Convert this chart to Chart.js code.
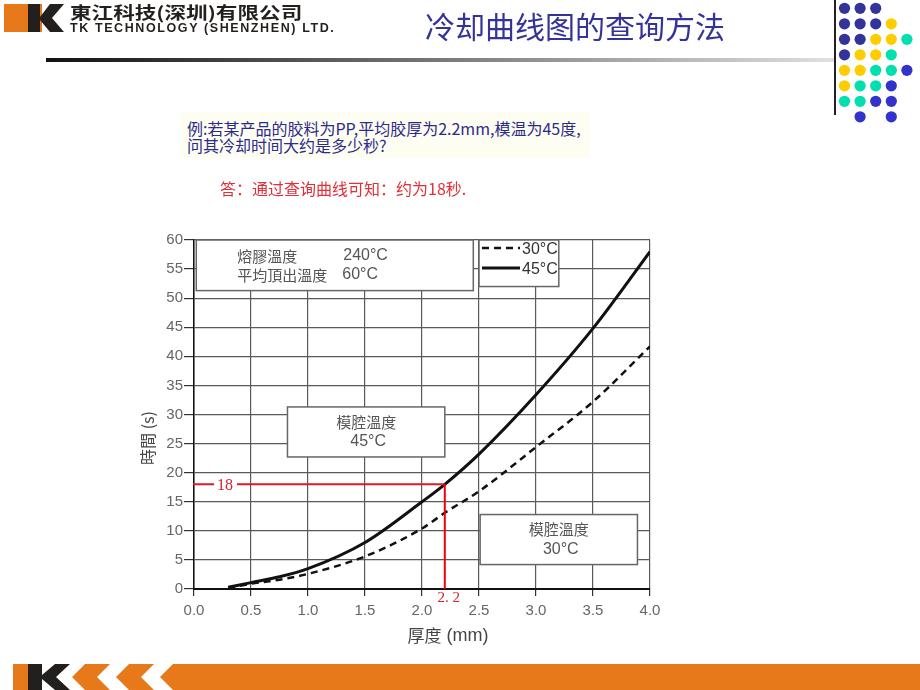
<!DOCTYPE html>
<html>
<head>
<meta charset="utf-8">
<script src="https://cdn.jsdelivr.net/npm/chart.js@4.4.1/dist/chart.umd.min.js"></script>
<style>
  html, body { margin: 0; padding: 0; background: #fff; }
  #page { position: relative; width: 920px; height: 690px; overflow: hidden; background: #fff; }
  #chart { position: absolute; left: 0; top: 0; }
  .abs { position: absolute; white-space: nowrap; }
  .cjk { font-family: "Noto Sans CJK SC", "Noto Sans CJK TC", sans-serif; }
</style>
</head>
<body>
<div id="page">
  <canvas id="chart" width="920" height="690"></canvas>

  <!-- header -->
  <svg class="abs" style="left:0;top:0" width="70" height="36">
    <rect x="4" y="4" width="38" height="28" fill="#e8791b"/>
    <polygon points="28,4 40,4 40,17 50,4 64,4 52,18 64,32 50,32 40,20 40,32 28,32" fill="#231f1c"/>
  </svg>
  <div class="abs cjk" style="left:70px;top:3px;font-size:17px;line-height:17px;font-weight:bold;color:#231f1c;transform:scaleX(1.27);transform-origin:0 0">東江科技(深圳)有限公司</div>
  <div class="abs" style="left:70px;top:22px;font-family:'Liberation Sans',Arial,sans-serif;font-size:12.5px;line-height:13px;font-weight:bold;color:#231f1c;letter-spacing:1.6px">TK TECHNOLOGY (SHENZHEN) LTD.</div>
  <div class="abs cjk" style="left:425px;top:10px;font-size:30px;line-height:30px;color:#333399">冷却曲线图的查询方法</div>
  <div class="abs" style="left:46px;top:58px;width:789px;height:4px;background:linear-gradient(to right,#111,#e0e0e0)"></div>
  <div class="abs" style="left:834px;top:0;width:2px;height:115px;background:#222"></div>
  <svg id="dots" class="abs" style="left:836px;top:0" width="84" height="130"></svg>

  <!-- question -->
  <div class="abs" style="left:180px;top:112px;width:410px;height:46px;background:#fdfdf1"></div>
  <div class="abs cjk" style="left:187px;top:120px;font-size:16px;line-height:17px;color:#2b2b8c">例:若某产品的胶料为PP,平均胶厚为2.2mm,模温为45度,<br>问其冷却时间大约是多少秒?</div>
  <div class="abs cjk" style="left:220px;top:176px;font-size:16px;color:#e0303a">答：通过查询曲线可知：约为18秒.</div>

  <!-- footer -->
  <svg class="abs" style="left:0;top:660px" width="920" height="30">
    <rect x="13" y="4" width="29" height="26" fill="#e8791b"/>
    <polygon points="28,4 42,4 42,15 55,4 70,4 56,17 70,30 55,30 42,19 42,30 28,30" fill="#231f1c"/>
    <polygon points="85,4 110,4 97,17 110,30 85,30 72,17" fill="#e8791b"/>
    <polygon points="129,4 154,4 141,17 154,30 129,30 116,17" fill="#e8791b"/>
    <polygon points="173,4 920,4 920,30 173,30 160,17" fill="#e8791b"/>
  </svg>
</div>

<script>
// cooling time curves
const thickness = [0.3, 0.5, 0.75, 1.0, 1.5, 2.0, 2.2, 2.5, 3.0, 3.5, 4.0];
const time30 = [0.2, 0.9, 1.6, 2.6, 5.6, 10.4, 13.1, 16.8, 24.4, 32.2, 41.7];
const time45 = [0.3, 1.1, 2.1, 3.5, 8.0, 15.0, 18.0, 23.2, 33.4, 44.8, 58.0];
const seriesNames = ['30°C', '45°C'];
const xTicks = [0, 0.5, 1, 1.5, 2, 2.5, 3, 3.5, 4];
const yTicks = [0, 5, 10, 15, 20, 25, 30, 35, 40, 45, 50, 55, 60];
const answerThickness = 2.2;
const answerTime = 18;

// dots at top right
const dotRows = [
  'NNN..', 'NNNY.', 'NNYYT', 'NYYT.', 'YYTTB', 'YTTB.', 'TTBB.', '.B.B.'
];
const dotColors = { N: '#333399', Y: '#ffcc00', T: '#00dfae', B: '#3333cc' };
const dotsSvg = document.getElementById('dots');
dotRows.forEach((row, r) => {
  row.split('').forEach((c, i) => {
    if (c === '.') return;
    const el = document.createElementNS('http://www.w3.org/2000/svg', 'circle');
    el.setAttribute('cx', 8.5 + i * 15.6);
    el.setAttribute('cy', 8.3 + r * 15.5);
    el.setAttribute('r', 5.6);
    el.setAttribute('fill', dotColors[c]);
    dotsSvg.appendChild(el);
  });
});

const FONT_CJK = '"Noto Sans CJK TC", "Noto Sans CJK SC", sans-serif';
const textGray = '#555';

const boxes = [
  { x0: 0.02, x1: 2.45, y0: 51.3, y1: 60 },
  { x0: 2.5, x1: 3.2, y0: 52, y1: 60 },
  { x0: 0.82, x1: 2.2, y0: 22.7, y1: 31.3 },
  { x0: 2.51, x1: 3.89, y0: 4.2, y1: 12.8 }
];

const annotations = {
  id: 'annotations',
  beforeDatasetsDraw(chart) {
    const { ctx, scales: { x, y } } = chart;
    ctx.save();
    const px = boxes.map(b => ({
      l: x.getPixelForValue(b.x0), r: x.getPixelForValue(b.x1),
      t: y.getPixelForValue(b.y1), b: y.getPixelForValue(b.y0)
    }));
    px.forEach(p => {
      ctx.fillStyle = '#fff';
      ctx.fillRect(p.l, p.t, p.r - p.l, p.b - p.t);
      ctx.strokeStyle = '#666';
      ctx.lineWidth = 1.5;
      ctx.strokeRect(p.l, p.t, p.r - p.l, p.b - p.t);
    });
    ctx.fillStyle = textGray;
    ctx.textBaseline = 'middle';
    ctx.font = '15px ' + FONT_CJK;
    ctx.textAlign = 'left';
    ctx.fillText('熔膠溫度', px[0].l + 41, px[0].t + 16);
    ctx.fillText('平均頂出溫度', px[0].l + 41, px[0].t + 35);
    ctx.font = '16px "Liberation Sans", Arial, sans-serif';
    ctx.fillText('240°C', px[0].l + 147, px[0].t + 16);
    ctx.fillText('60°C', px[0].l + 146, px[0].t + 35);

    // legend
    const lg = px[1];
    chart.data.datasets.forEach((ds, i) => {
      const ly = lg.t + 8 + i * 20;
      ctx.strokeStyle = ds.borderColor;
      ctx.lineWidth = ds.borderWidth;
      ctx.setLineDash(ds.borderDash || []);
      ctx.beginPath();
      ctx.moveTo(lg.l + 3, ly);
      ctx.lineTo(lg.l + 41, ly);
      ctx.stroke();
      ctx.setLineDash([]);
      ctx.textAlign = 'right';
      ctx.fillStyle = '#333';
      ctx.font = '16px "Liberation Sans", Arial, sans-serif';
      ctx.fillText(ds.label, lg.r - 1, ly + 2);
    });

    [[px[2], '45°C'], [px[3], '30°C']].forEach(([p, t]) => {
      const cx = (p.l + p.r) / 2;
      ctx.textAlign = 'center';
      ctx.fillStyle = textGray;
      ctx.font = '15px ' + FONT_CJK;
      ctx.fillText('模腔溫度', cx, p.t + 15);
      ctx.font = '16px "Liberation Sans", Arial, sans-serif';
      ctx.fillText(t, cx + 2, p.t + 35);
    });
    ctx.restore();
  },
  afterDatasetsDraw(chart) {
    const { ctx, chartArea, scales: { x, y } } = chart;
    const ax = x.getPixelForValue(answerThickness);
    const ay = y.getPixelForValue(answerTime);
    const y0 = y.getPixelForValue(0);
    ctx.save();
    ctx.strokeStyle = '#d81e2a';
    ctx.lineWidth = 2;
    ctx.beginPath();
    ctx.moveTo(chartArea.left - 1, ay);
    ctx.lineTo(ax, ay);
    ctx.stroke();
    ctx.strokeStyle = '#f00010';
    ctx.beginPath();
    ctx.moveTo(ax, ay);
    ctx.lineTo(ax, y0);
    ctx.stroke();
    // "18" label on the line
    ctx.fillStyle = '#fff';
    ctx.fillRect(chartArea.left + 20, ay - 8, 23, 16);
    ctx.fillStyle = '#d81e2a';
    ctx.font = '16px "Liberation Serif", serif';
    ctx.textAlign = 'center';
    ctx.textBaseline = 'middle';
    ctx.fillText(String(answerTime), chartArea.left + 31, ay + 1);
    ctx.font = '15px "Liberation Serif", serif';
    ctx.fillText(answerThickness.toFixed(1).replace('.', '. '), ax + 4, y0 + 9);
    ctx.restore();
  },
  afterDraw(chart) {
    const { ctx, chartArea } = chart;
    ctx.save();
    ctx.fillStyle = '#444';
    ctx.textBaseline = 'middle';
    // x axis title
    const t1 = '厚度';
    const t2 = ' (mm)';
    ctx.font = '17px ' + FONT_CJK;
    const w1 = ctx.measureText(t1).width;
    ctx.font = '18px "Liberation Sans", Arial, sans-serif';
    const w2 = ctx.measureText(t2).width;
    const sx = 448 - (w1 + w2) / 2;
    ctx.textAlign = 'left';
    ctx.font = '17px ' + FONT_CJK;
    ctx.fillText(t1, sx, chartArea.bottom + 47);
    ctx.font = '18px "Liberation Sans", Arial, sans-serif';
    ctx.fillText(t2, sx + w1, chartArea.bottom + 47);
    // y axis title
    ctx.translate(148, 438);
    ctx.rotate(-Math.PI / 2);
    ctx.textAlign = 'center';
    ctx.font = '16px ' + FONT_CJK;
    ctx.fillText('時間 (s)', 0, 0);
    ctx.restore();
  }
};

new Chart(document.getElementById('chart'), {
  type: 'line',
  data: {
    datasets: [
      {
        label: seriesNames[0],
        data: thickness.map((t, i) => ({ x: t, y: time30[i] })),
        borderColor: '#111',
        borderWidth: 2.5,
        borderDash: [7, 5],
        pointRadius: 0,
        cubicInterpolationMode: 'monotone',
        fill: false
      },
      {
        label: seriesNames[1],
        data: thickness.map((t, i) => ({ x: t, y: time45[i] })),
        borderColor: '#111',
        borderWidth: 3,
        pointRadius: 0,
        cubicInterpolationMode: 'monotone',
        fill: false
      }
    ]
  },
  options: {
    responsive: false,
    animation: false,
    devicePixelRatio: 1,
    layout: { padding: { left: 0, right: 270, top: 240, bottom: 71 } },
    plugins: { legend: { display: false }, tooltip: { enabled: false } },
    scales: {
      x: {
        type: 'linear',
        min: 0,
        max: 4,
        afterFit: s => { s.height = 30; },
        afterBuildTicks: s => { s.ticks = xTicks.map(v => ({ value: v })); },
        ticks: {
          padding: 6,
          color: '#666',
          font: { family: '"Liberation Sans", Arial, sans-serif', size: 15 },
          callback: v => Number(v).toFixed(1)
        },
        grid: { color: '#5a5a5a', lineWidth: 1.2, tickLength: 7, tickColor: '#333' },
        border: { color: '#111', width: 2 }
      },
      y: {
        min: 0,
        max: 60,
        afterFit: s => { s.width = 194; },
        afterBuildTicks: s => { s.ticks = yTicks.map(v => ({ value: v })); },
        ticks: {
          padding: 1,
          color: '#666',
          font: { family: '"Liberation Sans", Arial, sans-serif', size: 15 }
        },
        grid: { color: '#5a5a5a', lineWidth: 1.2, tickLength: 10, tickColor: '#333' },
        border: { color: '#111', width: 1.5 }
      }
    }
  },
  plugins: [annotations]
});
</script>
</body>
</html>
